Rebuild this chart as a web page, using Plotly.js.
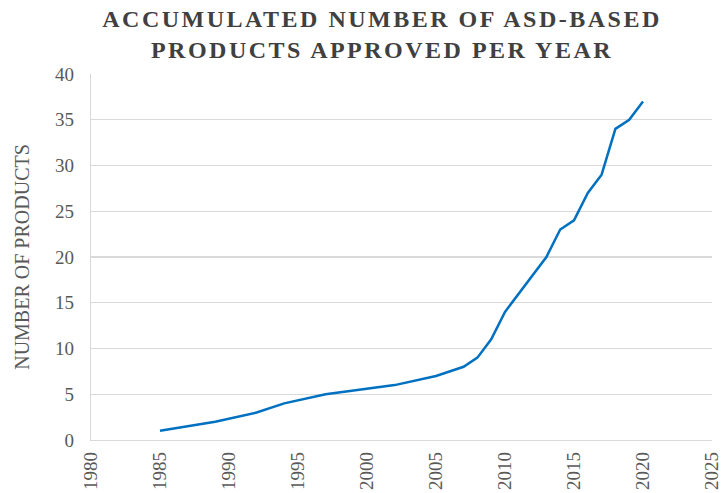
<!DOCTYPE html>
<html>
<head>
<meta charset="utf-8">
<script src="https://cdn.plot.ly/plotly-3.0.1.min.js"></script>
<style>
  html, body { margin: 0; padding: 0; background: #ffffff; }
  #chart { width: 722px; height: 493px; }
  .gtitle { letter-spacing: 2.5px; }
</style>
</head>
<body>
<div id="chart"></div>
<script>
// Cumulative count of approved ASD-based products, by year
const years = [1985, 1989, 1992, 1994, 1997, 2002, 2005, 2007, 2008, 2009, 2010, 2011, 2012, 2013, 2014, 2015, 2016, 2017, 2018, 2019, 2020];
const products = [1, 2, 3, 4, 5, 6, 7, 8, 9, 11, 14, 16, 18, 20, 23, 24, 27, 29, 34, 35, 37];

const xTickValues = [1980, 1985, 1990, 1995, 2000, 2005, 2010, 2015, 2020, 2025];
const yTickValues = [0, 5, 10, 15, 20, 25, 30, 35, 40];

const serif = '"Liberation Serif", "Times New Roman", serif';
const gridGray = '#d9d9d9';
const labelGray = '#595959';

const trace = {
  x: years,
  y: products,
  type: 'scatter',
  mode: 'lines',
  line: { color: '#0070C0', width: 2.5 },
  hoverinfo: 'x+y'
};

const layout = {
  width: 722,
  height: 493,
  margin: { l: 91, r: 10, t: 74, b: 53 },
  paper_bgcolor: '#ffffff',
  plot_bgcolor: '#ffffff',
  showlegend: false,
  title: {
    text: '<b>ACCUMULATED NUMBER OF ASD-BASED<br>PRODUCTS APPROVED PER YEAR</b>',
    font: { family: serif, size: 24, color: '#404040' },
    x: 382 / 722,
    xanchor: 'center',
    yref: 'container',
    y: 1 - 27 / 493,
    yanchor: 'middle'
  },
  xaxis: {
    range: [1980, 2025],
    tickvals: xTickValues,
    ticktext: xTickValues.map(String),
    tickangle: -90,
    showgrid: false,
    zeroline: false,
    showline: true,
    linecolor: gridGray,
    linewidth: 1.3,
    ticks: '',
    ticklabelstandoff: 3,
    ticklabeloverflow: 'allow',
    tickfont: { family: serif, size: 19, color: labelGray }
  },
  yaxis: {
    range: [0, 40],
    tickvals: yTickValues,
    ticktext: yTickValues.map(String),
    showgrid: true,
    gridcolor: gridGray,
    gridwidth: 1.3,
    zeroline: false,
    showline: true,
    linecolor: gridGray,
    linewidth: 1.3,
    ticks: '',
    ticklabelstandoff: 12,
    tickfont: { family: serif, size: 19, color: labelGray },
    title: {
      text: 'NUMBER OF PRODUCTS',
      font: { family: serif, size: 20, color: labelGray },
      standoff: 20
    }
  }
};

Plotly.newPlot('chart', [trace], layout, { displayModeBar: false, staticPlot: true });
</script>
</body>
</html>
